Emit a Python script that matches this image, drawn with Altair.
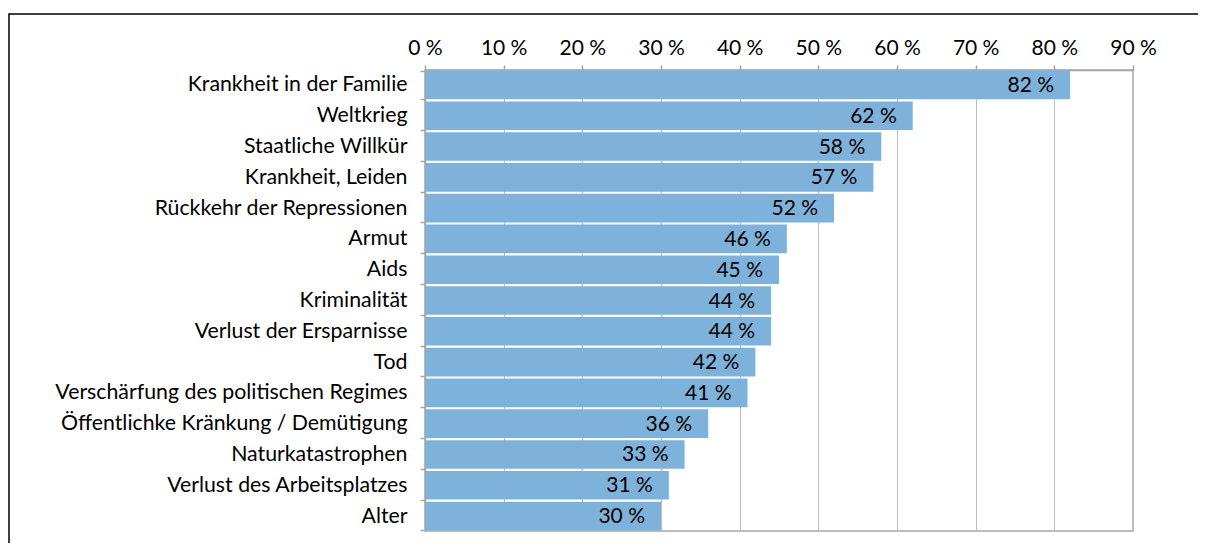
import altair as alt
import pandas as pd

categories = [
    "Krankheit in der Familie",
    "Weltkrieg",
    "Staatliche Willkür ",
    "Krankheit, Leiden",
    "Rückkehr der Repressionen",
    "Armut",
    "Aids",
    "Kriminalität",
    "Verlust der Ersparnisse",
    "Tod",
    "Verschärfung des politischen Regimes",
    "Öffentlichke Kränkung / Demütigung",
    "Naturkatastrophen",
    "Verlust des Arbeitsplatzes",
    "Alter",
]
values = [82, 62, 58, 57, 52, 46, 45, 44, 44, 42, 41, 36, 33, 31, 30]
x_ticks = [0, 10, 20, 30, 40, 50, 60, 70, 80, 90]

df = pd.DataFrame({"cat": categories, "val": values})
df["label"] = df["val"].astype(str) + " %"

GRAY = "#a6a6a6"
FONT = "Lato"

y_enc = alt.Y(
    "cat:N",
    sort=categories,
    title=None,
    scale=alt.Scale(paddingInner=0.07, paddingOuter=0.02),
    axis=alt.Axis(
        labelFont=FONT, labelFontSize=21.3, labelFontWeight="normal", labelColor="#000000",
        labelPadding=13, tickSize=5, tickBand="extent", tickColor=GRAY,
        tickWidth=1.5, domainColor=GRAY, domainWidth=1.5, grid=False,
        labelLimit=420,
    ),
)
x_enc = alt.X(
    "val:Q",
    title=None,
    scale=alt.Scale(domain=[0, 90], nice=False, zero=True),
    axis=alt.Axis(
        orient="top", values=x_ticks, labelExpr="datum.value + ' %'",
        labelFont=FONT, labelFontSize=21, labelFontWeight="normal", labelColor="#000000",
        labelPadding=7, tickSize=5, tickColor=GRAY, tickWidth=1.5,
        domainColor=GRAY, domainWidth=1.5, grid=True, gridColor="#bdbdbd",
        gridWidth=1, labelFlush=False,
    ),
)

base = alt.Chart(df)
bars = base.mark_bar(color="#7eb2da").encode(x=x_enc, y=y_enc)
text = base.mark_text(
    align="right", baseline="middle", dx=-16, dy=1, font=FONT, fontSize=21,
    fontWeight="normal", color="#000000"
).encode(x="val:Q", y=alt.Y("cat:N", sort=categories), text="label:N")

frame_data = alt.Data(values=[{"a": 1}])
frame = alt.Chart(frame_data).mark_rect(
    fillOpacity=0, stroke="black", strokeWidth=1.5
).encode(
    x=alt.value(-416), x2=alt.value(1000), y=alt.value(-56), y2=alt.value(800)
)

chart = (
    alt.layer(bars, text, frame)
    .properties(
        width=708, height=461,
        autosize=alt.AutoSizeParams(type="none"),
        padding={"left": 417, "top": 62, "right": 65, "bottom": 12},
        background="white",
    )
    .configure_view(stroke=GRAY, strokeWidth=1.5)
)

chart.save("out.html", embed_options={"renderer": "svg", "actions": False})
